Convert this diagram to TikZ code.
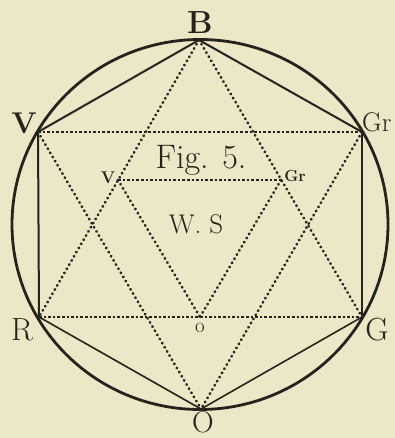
\documentclass[tikz,border=0pt]{standalone}
\begin{document}
\begin{tikzpicture}[x=1pt,y=-1pt]
\definecolor{paper}{RGB}{235,231,199}
\definecolor{ink}{RGB}{38,34,28}
\tikzset{
  solidline/.style={draw=ink,line width=2pt},
  dotline/.style={draw=ink,line width=2.8pt,line cap=round,dash pattern=on 0.4pt off 4.4pt},
  dashline/.style={draw=ink,line width=2pt,dash pattern=on 2.6pt off 2pt},
  biglbl/.style={text=ink,font=\fontsize{32}{32}\selectfont,inner sep=0pt},
  smalllbl/.style={text=ink,font=\fontsize{15}{16}\selectfont,inner sep=0pt}
}
\fill[paper] (0,0) rectangle (395,438);
\useasboundingbox (0,0) rectangle (395,438);
% vertices
\coordinate (B) at (199,40);
\coordinate (Gr) at (362,132);
\coordinate (G) at (362,317);
\coordinate (O) at (201,409);
\coordinate (R) at (39,317);
\coordinate (V) at (38,132);
\coordinate (iv) at (118,180);
\coordinate (igr) at (281,180);
\coordinate (io) at (200,317);
% circle
\draw[draw=ink,line width=2.8pt] (200,224.5) ellipse [x radius=188pt, y radius=185pt];
% hexagon
\draw[solidline] (V) -- (B) -- (Gr);
\draw[solidline] (Gr) -- (G);
\draw[solidline] (V) -- (R);
\draw[draw=ink,line width=1.6pt] (R) -- (O) -- (G);
% triangles
\draw[dotline] (B) -- (R);
\draw[dotline] (B) -- (G);
\draw[dotline] (V) -- (O);
\draw[dotline] (Gr) -- (O);
\draw[dashline] (V) -- (Gr);
\draw[dashline] (R) -- (G);
% inner triangle
\draw[dashline] (iv) -- (igr);
\draw[dotline] (iv) -- (io);
\draw[dotline] (igr) -- (io);
% labels
\node[biglbl,font=\fontsize{32}{32}\selectfont\bfseries,anchor=base] (lB) at (200,34) {B};
\node[biglbl,font=\fontsize{30}{30}\selectfont\bfseries,anchor=base] (lV) at (24,134) {V};
\node[biglbl,font=\fontsize{27}{28}\selectfont,anchor=base west] (lGr) at (362,132) {Gr};
\node[biglbl,anchor=base] (lR) at (22,340) {R};
\node[biglbl,anchor=base] (lG) at (377,340) {G};
\node[biglbl,font=\fontsize{30}{30}\selectfont,anchor=base] (lO) at (203,432) {O};
\node[biglbl,font=\fontsize{34}{35}\selectfont,anchor=base] (lfig) at (201,168) {Fig. 5.};
\node[biglbl,font=\fontsize{27}{28}\selectfont,anchor=base] (lws) at (196,233) {W.\ S};
\node[smalllbl,font=\fontsize{17}{18}\selectfont\bfseries,anchor=base] (lv) at (108,183) {V};
\node[smalllbl,font=\fontsize{16}{17}\selectfont\bfseries,anchor=base] (lgr) at (295,182) {Gr};
\node[smalllbl,font=\fontsize{21}{22}\selectfont,anchor=base] (lo) at (200,332) {o};
\end{tikzpicture}
\end{document}
